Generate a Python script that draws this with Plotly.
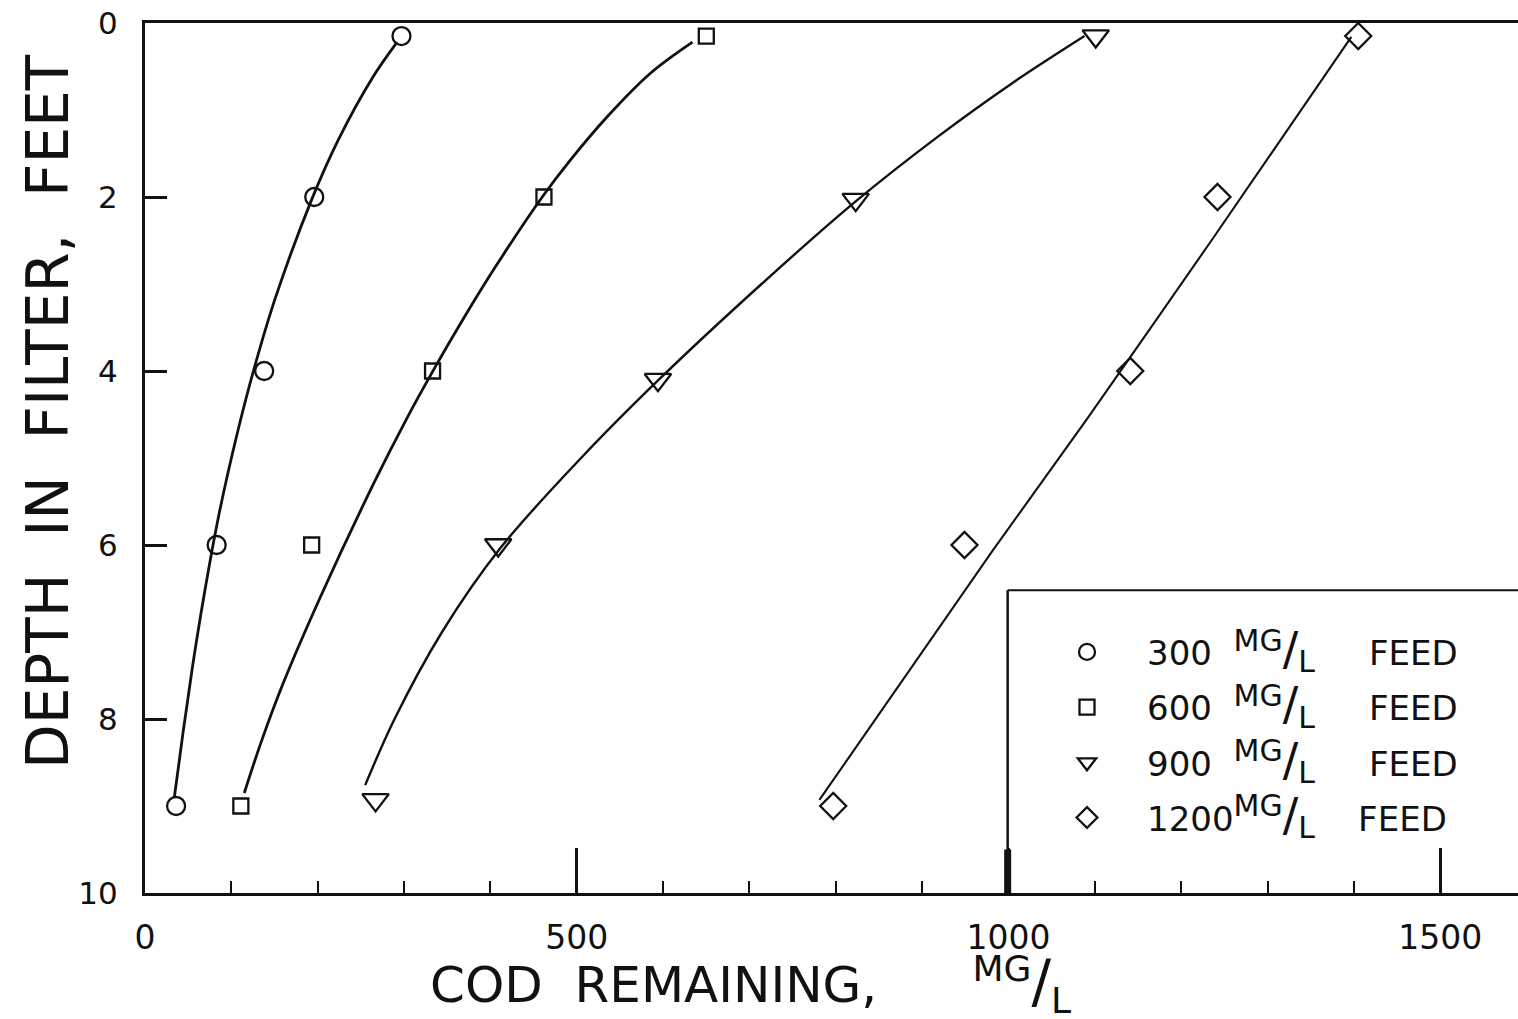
import plotly.graph_objects as go

# ---- measured data points (COD remaining mg/L, depth ft) ----
depth_pts = [0.15, 2.0, 4.0, 6.0, 9.0]
depth_pts_900 = [0.15, 2.03, 4.1, 6.0, 8.93]
cod_300 = [297, 196, 138, 83, 36]
cod_600 = [650, 462, 333, 193, 111]
cod_900 = [1101, 823, 594, 409, 267]
cod_1200 = [1405, 1242, 1141, 949, 797]

# ---- fitted curves ----
curve_300_cod = [292, 264, 224, 193, 151, 127, 107, 85, 68, 55, 44, 34]
curve_300_depth = [0.22, 0.62, 1.34, 2.03, 3.16, 3.95, 4.71, 5.68, 6.6, 7.4, 8.16, 8.9]
curve_600_cod = [634, 585, 535, 493, 460, 406, 368, 334, 304, 265, 203, 160, 134, 115]
curve_600_depth = [0.22, 0.58, 1.08, 1.57, 2.0, 2.8, 3.41, 3.99, 4.53, 5.29, 6.6, 7.59, 8.28, 8.85]
curve_900_cod = [1088, 1003, 919, 823, 714, 595, 505, 412, 344, 289, 255]
curve_900_depth = [0.15, 0.7, 1.3, 2.05, 3.0, 4.1, 5.0, 6.03, 7.0, 8.0, 8.76]
curve_1200_cod = [1397, 1235, 1091, 982, 781]
curve_1200_depth = [0.16, 2.5, 4.55, 6.06, 8.93]

mgl = ("<sup><span style='font-size:{a}px'>MG</span></sup>"
       "<span style='font-size:{b}px'>/</span>"
       "<sub><span style='font-size:{a}px'>L</span></sub>")
leg_mgl = mgl.format(a=30, b=46)
series_names = [
    "300  " + leg_mgl + "     FEED",
    "600  " + leg_mgl + "     FEED",
    "900  " + leg_mgl + "     FEED",
    "1200" + leg_mgl + "    FEED",
]
x_title = "COD  REMAINING,      " + mgl.format(a=36, b=58)
y_title = "DEPTH  IN  FILTER,  FEET"
x_tickvals = [0, 500, 1000, 1500]
x_ticktext = ["0", "500", "1000", "1500"]
y_tickvals = [0, 2, 4, 6, 8, 10]
y_ticktext = ["0", "2", "4", "6", "8", "10"]

FONT = "DejaVu Sans"
INK = "#111111"

fig = go.Figure()

curves = [
    (curve_300_cod, curve_300_depth, 2.8, 1.0),
    (curve_600_cod, curve_600_depth, 2.8, 1.0),
    (curve_900_cod, curve_900_depth, 2.4, 1.0),
    (curve_1200_cod, curve_1200_depth, 2.1, 0.6),
]
for cx, cy, w, sm in curves:
    fig.add_trace(go.Scatter(
        x=cx, y=cy, mode="lines", showlegend=False, hoverinfo="skip",
        line=dict(color=INK, width=w, shape="spline", smoothing=sm),
    ))

points = [
    (cod_300, depth_pts, "circle-open", 18),
    (cod_600, depth_pts, "square-open", 15),
    (cod_900, depth_pts_900, "triangle-down-open", 23),
    (cod_1200, depth_pts, "diamond-open", 20),
]
for i, (px, py, sym, sz) in enumerate(points):
    fig.add_trace(go.Scatter(
        x=px, y=py, mode="markers", name=series_names[i],
        legendgroup=f"g{i}",
        marker=dict(symbol=sym, size=sz, color=INK,
                    line=dict(color=INK, width=2.3)),
    ))

# legend box (left and top borders) inside the plot
fig.add_shape(type="line", xref="x", yref="y", x0=999, x1=999, y0=10, y1=6.52,
              line=dict(color=INK, width=2.5))
fig.add_shape(type="line", xref="x", yref="y", x0=999, x1=1590, y0=6.52, y1=6.52,
              line=dict(color=INK, width=2))
fig.add_shape(type="line", xref="x", yref="y", x0=999, x1=999, y0=9.5, y1=10,
              line=dict(color=INK, width=7))

fig.update_layout(
    width=1518, height=1019,
    margin=dict(l=145, r=0, t=23, b=126),
    paper_bgcolor="white", plot_bgcolor="white",
    font=dict(family=FONT, color=INK),
    showlegend=True,
    legend=dict(
        x=(1027 - 145) / 1373, y=0.31, xanchor="left", yanchor="top",
        bgcolor="rgba(0,0,0,0)", borderwidth=0,
        font=dict(family=FONT, size=34, color=INK),
        tracegroupgap=8, traceorder="grouped",
        itemsizing="trace", itemwidth=110,
    ),
)

fig.update_xaxes(
    range=[0, 1590], showgrid=False, zeroline=False,
    showline=True, linecolor=INK, linewidth=2.5, mirror=True,
    tickmode="array", tickvals=x_tickvals, ticktext=x_ticktext,
    ticks="inside", ticklen=45, tickwidth=2.5, tickcolor=INK,
    tickfont=dict(family=FONT, size=33, color=INK),
    ticklabelstandoff=14,
    minor=dict(dtick=100, tick0=0, ticks="inside", ticklen=12, tickwidth=2, tickcolor=INK),
)
fig.update_yaxes(
    range=[10, 0], showgrid=False, zeroline=False,
    showline=True, linecolor=INK, linewidth=3,
    tickmode="array", tickvals=y_tickvals, ticktext=y_ticktext,
    ticks="inside", ticklen=22, tickwidth=2.5, tickcolor=INK,
    tickfont=dict(family=FONT, size=31, color=INK),
    ticklabelstandoff=18,
)

# axis titles
fig.add_annotation(
    xref="paper", yref="paper", x=(428 - 145) / 1373, y=-0.105,
    xanchor="left", yanchor="middle", showarrow=False,
    text=x_title,
    font=dict(family=FONT, size=50, color=INK),
)
fig.add_annotation(
    xref="paper", yref="paper", x=(48 - 145) / 1373, y=(893 - 412) / 870,
    xanchor="center", yanchor="middle", showarrow=False, textangle=-90,
    text=y_title,
    font=dict(family=FONT, size=58, color=INK),
)

fig.write_html(
    "out.html",
    config={"displayModeBar": False},
    post_script="document.body.style.margin='0px';document.body.style.overflow='hidden';",
)
